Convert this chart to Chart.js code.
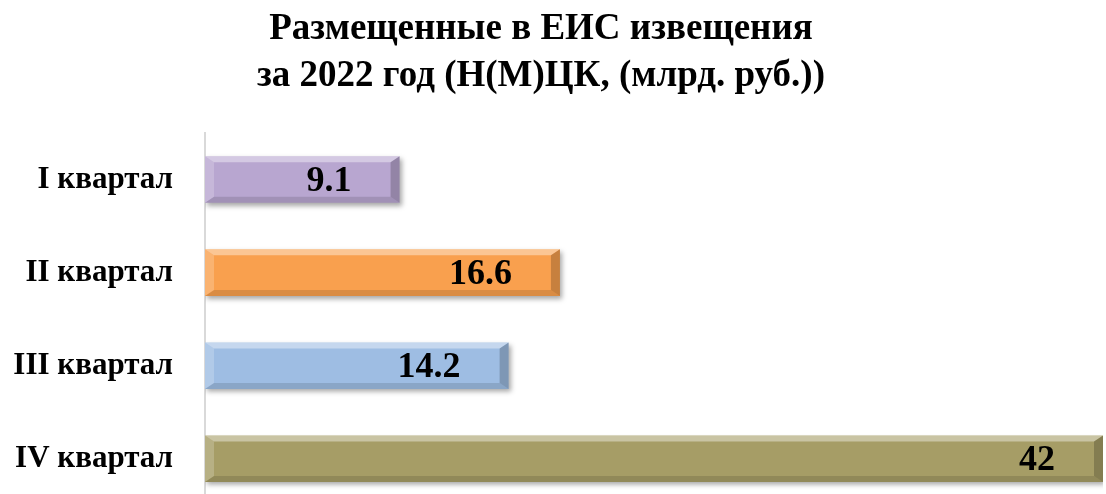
<!DOCTYPE html>
<html>
<head>
<meta charset="utf-8">
<script src="https://cdn.jsdelivr.net/npm/chart.js@4/dist/chart.umd.min.js"></script>
<style>
  html, body { margin: 0; padding: 0; overflow: hidden; background: #fff; }
  canvas { display: block; }
</style>
</head>
<body>
<canvas id="chart" width="1106" height="556"></canvas>
<script>
const QUARTERS = ['I квартал', 'II квартал', 'III квартал', 'IV квартал'];
const VALUES = [9.1, 16.6, 14.2, 42];
const BAR_COLORS = ['#B8A6D0', '#F9A04E', '#9EBDE3', '#A69D66'];
const TITLE_LINES = ['Размещенные в ЕИС извещения', 'за 2022 год (Н(М)ЦК, (млрд. руб.))'];

const SERIF = '"Times New Roman", "Liberation Serif", serif';

// soft drop shadow under the bars
const shadowPlugin = {
    id: 'shadow',
    beforeDatasetDraw(chart) {
        const ctx = chart.ctx;
        ctx.save();
        ctx.shadowColor = 'rgba(0,0,0,0.35)';
        ctx.shadowBlur = 5;
        ctx.shadowOffsetX = 2;
        ctx.shadowOffsetY = 3;
    },
    afterDatasetDraw(chart) {
        chart.ctx.restore();
    }
};

// bevel look + value labels
const bevelPlugin = {
    id: 'bevel',
    afterDatasetsDraw(chart) {
        const ctx = chart.ctx;
        const meta = chart.getDatasetMeta(0);
        meta.data.forEach((bar, i) => {
            const left = Math.min(bar.base, bar.x);
            const right = Math.max(bar.base, bar.x);
            const top = bar.y - bar.height / 2;
            const bottom = bar.y + bar.height / 2;
            const b = 9;
            const h = 6;
            ctx.save();
            // top light edge
            ctx.fillStyle = 'rgba(255,255,255,0.4)';
            ctx.beginPath();
            ctx.moveTo(left, top);
            ctx.lineTo(right, top);
            ctx.lineTo(right - b, top + h);
            ctx.lineTo(left + b, top + h);
            ctx.closePath();
            ctx.fill();
            // left light edge
            ctx.fillStyle = 'rgba(255,255,255,0.2)';
            ctx.beginPath();
            ctx.moveTo(left, top);
            ctx.lineTo(left + b, top + h);
            ctx.lineTo(left + b, bottom - h);
            ctx.lineTo(left, bottom);
            ctx.closePath();
            ctx.fill();
            // bottom dark edge
            ctx.fillStyle = 'rgba(0,0,0,0.12)';
            ctx.beginPath();
            ctx.moveTo(left, bottom);
            ctx.lineTo(right, bottom);
            ctx.lineTo(right - b, bottom - h);
            ctx.lineTo(left + b, bottom - h);
            ctx.closePath();
            ctx.fill();
            // right dark edge
            ctx.fillStyle = 'rgba(0,0,0,0.2)';
            ctx.beginPath();
            ctx.moveTo(right, top);
            ctx.lineTo(right - b, top + h);
            ctx.lineTo(right - b, bottom - h);
            ctx.lineTo(right, bottom);
            ctx.closePath();
            ctx.fill();

            ctx.fillStyle = '#000';
            ctx.font = 'bold 36px ' + SERIF;
            ctx.textAlign = 'right';
            ctx.textBaseline = 'middle';
            ctx.fillText(String(VALUES[i]), right - 48, bar.y + 2);
            ctx.restore();
        });
    }
};

new Chart(document.getElementById('chart'), {
    type: 'bar',
    data: {
        labels: QUARTERS,
        datasets: [{
            data: VALUES,
            backgroundColor: BAR_COLORS,
            borderWidth: 0,
            categoryPercentage: 1,
            barPercentage: 0.5,
        }]
    },
    options: {
        indexAxis: 'y',
        responsive: false,
        animation: false,
        // negative left padding shifts the title centre left (it sits off-centre in the original)
        layout: { padding: { left: -21, right: 3, top: 0, bottom: 0 } },
        scales: {
            x: {
                display: false,
                min: 0,
                max: 42,
            },
            y: {
                grid: { display: false, drawTicks: false },
                border: { display: true, color: '#D9D9D9', width: 2 },
                ticks: {
                    color: '#000',
                    padding: 32,
                    font: { family: SERIF, size: 31, weight: 'bold' },
                },
                afterFit(scale) { scale.width = 226; },
            }
        },
        plugins: {
            legend: { display: false },
            tooltip: { enabled: false },
            title: {
                display: true,
                text: TITLE_LINES,
                color: '#000',
                font: { family: SERIF, size: 37, weight: 'bold', lineHeight: 1.27 },
                padding: { top: 6, bottom: 33 },
            }
        }
    },
    plugins: [shadowPlugin, bevelPlugin]
});
</script>
</body>
</html>
